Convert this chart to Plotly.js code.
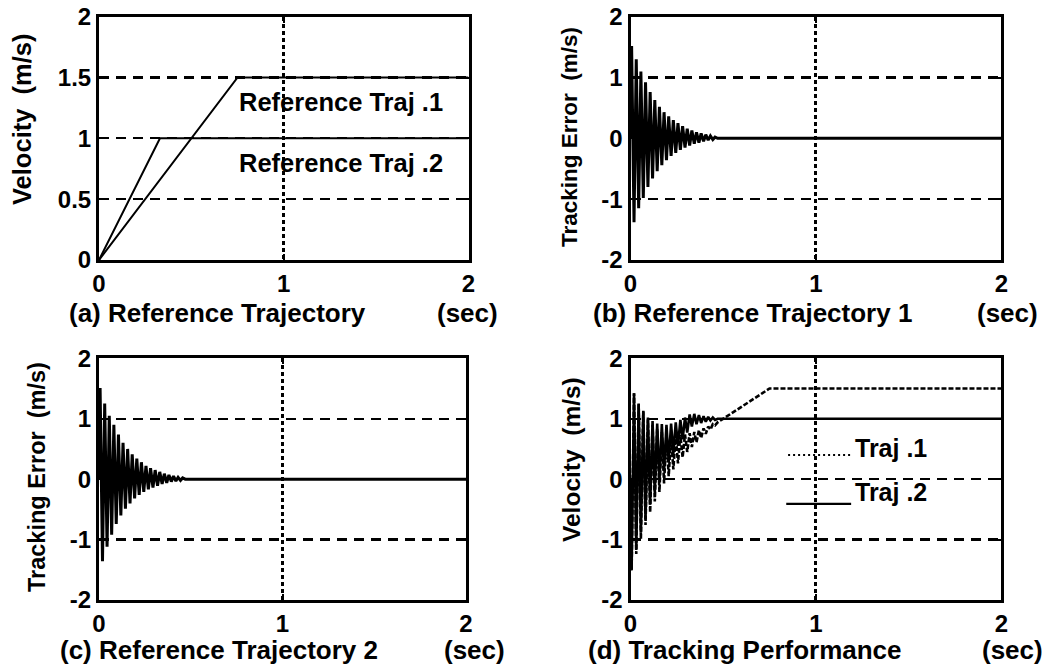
<!DOCTYPE html>
<html>
<head>
<meta charset="utf-8">
<script src="https://cdn.plot.ly/plotly-3.0.1.min.js"></script>
<style>
html,body{margin:0;padding:0;background:#fff;}
#chart{width:1056px;height:671px;}
</style>
</head>
<body>
<div id="chart"></div>
<script>
// ---------------- data ----------------
const xTicks = [0, 1, 2];
const xTickText = ['0', '1', '2'];
const velTicks = [0, 0.5, 1, 1.5, 2];
const velTickText = ['0', '0.5', '1', '1.5', '2'];
const errTicks = [-2, -1, 0, 1, 2];
const errTickText = ['-2', '-1', '0', '1', '2'];
const dTicks = [-2, -1, 0, 1, 2];
const dTickText = ['-2', '-1', '0', '1', '2'];

// (a) reference trajectories
const refTime1 = [0, 0.75, 2];
const refVel1 = [0, 1.5, 1.5];
const refTime2 = [0, 0.33, 2];
const refVel2 = [0, 1, 1];

// (b), (c) tracking error: alternating peaks / troughs
const errTime = [0, 0.006, 0.019, 0.031, 0.044, 0.056, 0.069, 0.081, 0.094, 0.106,
  0.119, 0.131, 0.144, 0.156, 0.169, 0.181, 0.194, 0.206, 0.219, 0.231,
  0.244, 0.256, 0.269, 0.281, 0.294, 0.306, 0.319, 0.331, 0.344, 0.356,
  0.369, 0.381, 0.394, 0.406, 0.419, 0.431, 0.444, 0.456, 0.47, 2.0];
const err1 = [0, 1.52, -1.38, 1.3, -1.15, 1.1, -0.98, 0.92, -0.8, 0.76,
  -0.66, 0.63, -0.54, 0.52, -0.44, 0.43, -0.36, 0.36, -0.29, 0.3,
  -0.24, 0.25, -0.19, 0.2, -0.15, 0.16, -0.12, 0.13, -0.09, 0.1,
  -0.07, 0.08, -0.05, 0.06, -0.03, 0.04, -0.02, 0.02, 0, 0];
const err2 = [0, 1.51, -1.36, 1.25, -1.12, 1.05, -0.92, 0.9, -0.74, 0.74,
  -0.6, 0.6, -0.49, 0.5, -0.4, 0.41, -0.32, 0.34, -0.26, 0.28,
  -0.21, 0.22, -0.17, 0.18, -0.14, 0.15, -0.11, 0.12, -0.08, 0.09,
  -0.06, 0.07, -0.04, 0.05, -0.03, 0.03, -0.02, 0.02, 0, 0];

// (d) tracking performance (actual velocities)
const trackTime1 = [0, 0.006, 0.019, 0.031, 0.044, 0.056, 0.069, 0.081, 0.094, 0.106,
  0.119, 0.131, 0.144, 0.156, 0.169, 0.181, 0.194, 0.206, 0.219, 0.231,
  0.244, 0.256, 0.269, 0.281, 0.294, 0.306, 0.319, 0.331, 0.344, 0.356,
  0.369, 0.381, 0.394, 0.406, 0.419, 0.431, 0.444, 0.456, 0.47, 0.75, 2.0];
const track1 = [0, -1.51, 1.42, -1.24, 1.24, -0.99, 1.12, -0.76, 0.99, -0.55,
  0.9, -0.37, 0.83, -0.21, 0.78, -0.07, 0.75, 0.05, 0.73, 0.16,
  0.73, 0.26, 0.73, 0.36, 0.74, 0.45, 0.76, 0.53, 0.78, 0.61,
  0.81, 0.68, 0.84, 0.75, 0.87, 0.82, 0.91, 0.89, 0.94, 1.5, 1.5];
const trackTime2 = [0, 0.006, 0.019, 0.031, 0.044, 0.056, 0.069, 0.081, 0.094, 0.106,
  0.119, 0.131, 0.144, 0.156, 0.169, 0.181, 0.194, 0.206, 0.219, 0.231,
  0.244, 0.256, 0.269, 0.281, 0.294, 0.306, 0.319, 0.331, 0.344, 0.356,
  0.369, 0.381, 0.394, 0.406, 0.419, 0.431, 0.444, 0.456, 0.47, 2.0];
const track2 = [0, -1.49, 1.42, -1.16, 1.25, -0.88, 1.13, -0.66, 1.02, -0.42,
  0.96, -0.21, 0.92, -0.03, 0.91, 0.13, 0.9, 0.28, 0.92, 0.41,
  0.94, 0.55, 0.98, 0.66, 1.02, 0.77, 1.07, 0.87, 1.08, 0.91,
  1.06, 0.93, 1.04, 0.95, 1.03, 0.97, 1.02, 0.98, 1, 1];

const panelTitles = ['(a) Reference Trajectory', '(b) Reference Trajectory 1',
  '(c) Reference Trajectory 2', '(d) Tracking Performance'];
const unitText = '(sec)';
const yTitles = ['Velocity  (m/s)', 'Tracking Error  (m/s)', 'Tracking Error  (m/s)', 'Velocity  (m/s)'];
const refLabels = ['Reference Traj .1', 'Reference Traj .2'];
const trackLabels = ['Traj .1', 'Traj .2'];

// ---------------- layout geometry (pixels) ----------------
const W = 1056, H = 671;
const FONT = '"Liberation Sans", Arial, sans-serif';
const boxes = [
  [99, 468.5, 16.7, 260],
  [630.5, 1001.3, 16.7, 260],
  [99, 466, 358.3, 600],
  [630.5, 1001.3, 358.3, 600]
];
// [left x of caption, left x of (sec), centre y, y-title centre x, y-title centre y, y-title size]
const titlePos = [
  [67, 435, 313, 22, 120, 25.5],
  [591, 975, 313, 570, 137, 22.5],
  [58, 442, 650, 37, 477, 23.5],
  [586, 980, 650, 571, 460, 24.5]
];

const tickFont = {family: FONT, size: 24, color: '#000', weight: 'bold'};

function xAxis(b, anchor) {
  return {
    domain: [b[0] / W, b[1] / W], anchor: anchor, range: [0, 2],
    tickmode: 'array', tickvals: xTicks, ticktext: xTickText,
    ticks: 'inside', ticklen: 6, tickwidth: 2, tickcolor: '#000',
    showline: true, linewidth: 3, linecolor: '#000', mirror: 'ticks',
    showgrid: true, gridcolor: '#000', gridwidth: 3, griddash: '4px,3px',
    zeroline: false, fixedrange: true, tickfont: tickFont
  };
}
function yAxis(b, anchor, range, tv, tt) {
  return {
    domain: [1 - b[3] / H, 1 - b[2] / H], anchor: anchor, range: range,
    tickmode: 'array', tickvals: tv, ticktext: tt,
    ticks: 'inside', ticklen: 6, tickwidth: 2, tickcolor: '#000',
    showline: true, linewidth: 3, linecolor: '#000', mirror: 'ticks',
    showgrid: true, gridcolor: '#000', gridwidth: 2.2, griddash: '10px,7px',
    zeroline: false, fixedrange: true, tickfont: tickFont
  };
}

const solid = {color: '#000', width: 2};
const traces = [
  {x: refTime1, y: refVel1, xaxis: 'x', yaxis: 'y', mode: 'lines', line: solid, name: refLabels[0]},
  {x: refTime2, y: refVel2, xaxis: 'x', yaxis: 'y', mode: 'lines', line: solid, name: refLabels[1]},
  {x: errTime, y: err1, xaxis: 'x2', yaxis: 'y2', mode: 'lines', line: {color: '#000', width: 3}, name: 'Error 1'},
  {x: errTime, y: err2, xaxis: 'x3', yaxis: 'y3', mode: 'lines', line: {color: '#000', width: 3}, name: 'Error 2'},
  {x: trackTime1, y: track1, xaxis: 'x4', yaxis: 'y4', mode: 'lines', line: {color: '#000', width: 2.6, dash: '5px,2px'}, name: trackLabels[0]},
  {x: trackTime2, y: track2, xaxis: 'x4', yaxis: 'y4', mode: 'lines', line: {color: '#000', width: 2.6}, name: trackLabels[1]}
];

const txt = (s) => ({family: FONT, size: s || 26, color: '#000', weight: 'bold'});
const annotations = [];
for (let i = 0; i < 4; i++) {
  const p = titlePos[i];
  annotations.push({xref: 'paper', yref: 'paper', x: p[0] / W, y: 1 - p[2] / H, xanchor: 'left', yanchor: 'middle',
    text: panelTitles[i], showarrow: false, font: txt(26)});
  annotations.push({xref: 'paper', yref: 'paper', x: p[1] / W, y: 1 - p[2] / H, xanchor: 'left', yanchor: 'middle',
    text: unitText, showarrow: false, font: txt(26)});
  annotations.push({xref: 'paper', yref: 'paper', x: p[3] / W, y: 1 - p[4] / H, xanchor: 'center', yanchor: 'middle',
    text: yTitles[i].replace('  ', '&nbsp;&nbsp;'), textangle: -90, showarrow: false, font: txt(p[5])});
}
// in-plot labels
annotations.push({xref: 'x', yref: 'y', x: 0.745, y: 1.3, xanchor: 'left', yanchor: 'middle', text: refLabels[0], showarrow: false, font: txt(25.5)});
annotations.push({xref: 'x', yref: 'y', x: 0.745, y: 0.8, xanchor: 'left', yanchor: 'middle', text: refLabels[1], showarrow: false, font: txt(25.5)});
annotations.push({xref: 'x4', yref: 'y4', x: 1.2, y: 0.52, xanchor: 'left', yanchor: 'middle', text: trackLabels[0], showarrow: false, font: txt(25)});
annotations.push({xref: 'x4', yref: 'y4', x: 1.2, y: -0.21, xanchor: 'left', yanchor: 'middle', text: trackLabels[1], showarrow: false, font: txt(25)});

const shapes = [
  {type: 'line', xref: 'x4', yref: 'y4', x0: 0.85, x1: 1.19, y0: 0.4, y1: 0.4, line: {color: '#000', width: 2, dash: '2px,3px'}},
  {type: 'line', xref: 'x4', yref: 'y4', x0: 0.84, x1: 1.19, y0: -0.41, y1: -0.41, line: {color: '#000', width: 2.4}}
];

const layout = {
  width: W, height: H, margin: {l: 0, r: 0, t: 0, b: 0},
  paper_bgcolor: '#fff', plot_bgcolor: '#fff', showlegend: false,
  font: {family: FONT, size: 24, color: '#000'},
  xaxis: xAxis(boxes[0], 'y'), yaxis: yAxis(boxes[0], 'x', [0, 2], velTicks, velTickText),
  xaxis2: xAxis(boxes[1], 'y2'), yaxis2: yAxis(boxes[1], 'x2', [-2, 2], errTicks, errTickText),
  xaxis3: xAxis(boxes[2], 'y3'), yaxis3: yAxis(boxes[2], 'x3', [-2, 2], errTicks, errTickText),
  xaxis4: xAxis(boxes[3], 'y4'), yaxis4: yAxis(boxes[3], 'x4', [-2, 2], dTicks, dTickText),
  annotations: annotations, shapes: shapes
};

Plotly.newPlot('chart', traces, layout, {staticPlot: true, displayModeBar: false});
</script>
</body>
</html>
